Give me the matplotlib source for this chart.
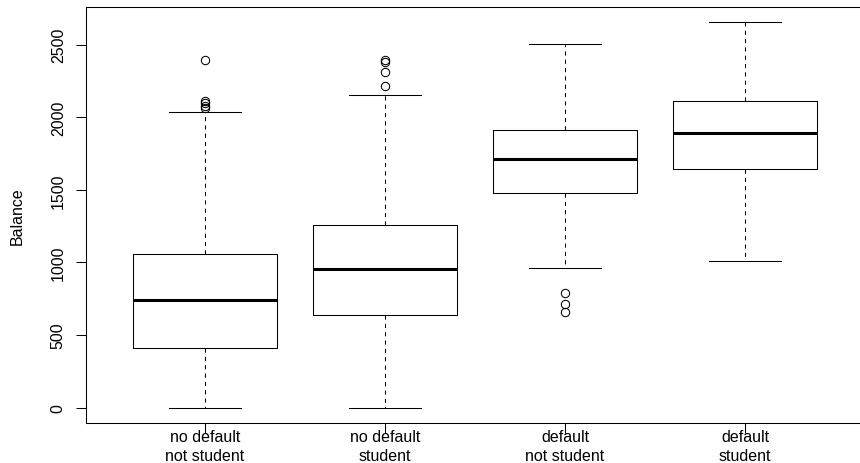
import numpy as np
import matplotlib
matplotlib.use("Agg")
import matplotlib.pyplot as plt

plt.rcParams['font.family'] = ['Liberation Sans', 'DejaVu Sans']

# groups and box statistics
labels = ["no default\nnot student", "no default\nstudent",
          "default\nnot student", "default\nstudent"]
whislo = [0, 0, 960, 1012]
q1 = [408, 638, 1478, 1641]
med = [742, 952, 1712, 1892]
q3 = [1060, 1260, 1915, 2110]
whishi = [2039, 2151, 2502, 2656]
fliers = [
    [2392, 2114, 2097, 2080, 2066],
    [2397, 2378, 2312, 2215],
    [790, 714, 659],
    [],
]

stats = []
for i in range(len(labels)):
    stats.append(dict(whislo=whislo[i], q1=q1[i], med=med[i], q3=q3[i],
                      whishi=whishi[i], fliers=fliers[i], label=labels[i]))

fig = plt.figure(figsize=(8.6, 4.64), dpi=100)
ax = fig.add_axes([86.2 / 860, 1 - 424 / 464, 777.6 / 860, 416 / 464])

lw = 0.75
ax.bxp(stats, positions=[1, 2, 3, 4], widths=0.8, capwidths=0.4,
       boxprops=dict(color="black", linewidth=lw),
       whiskerprops=dict(color="black", linewidth=lw, linestyle=(0, (4, 4))),
       capprops=dict(color="black", linewidth=lw),
       medianprops=dict(color="black", linewidth=2.2, solid_capstyle="butt"),
       flierprops=dict(marker="o", markerfacecolor="none", markeredgecolor="black",
                       markersize=6, markeredgewidth=lw, linestyle="none"))

ax.set_xlim(0.34, 4.66)
ax.set_ylim(-106, 2760)
ax.set_yticks([0, 500, 1000, 1500, 2000, 2500])
ax.set_yticklabels(["0", "500", "1000", "1500", "2000", "2500"],
                   rotation=90, va="center")
ax.set_xticks([1, 2, 3, 4])
ax.set_xticklabels(labels, linespacing=1.35)
ax.tick_params(direction="out", length=7.2, width=lw, labelsize=11.5)
ax.tick_params(axis="x", pad=-3)
ax.tick_params(axis="y", pad=7.5)
for s in ax.spines.values():
    s.set_linewidth(lw)
ax.set_ylabel("Balance", fontsize=11.5, va="center")
ax.yaxis.set_label_coords(-0.089, 0.5)

fig.savefig("out.png", dpi=100)
